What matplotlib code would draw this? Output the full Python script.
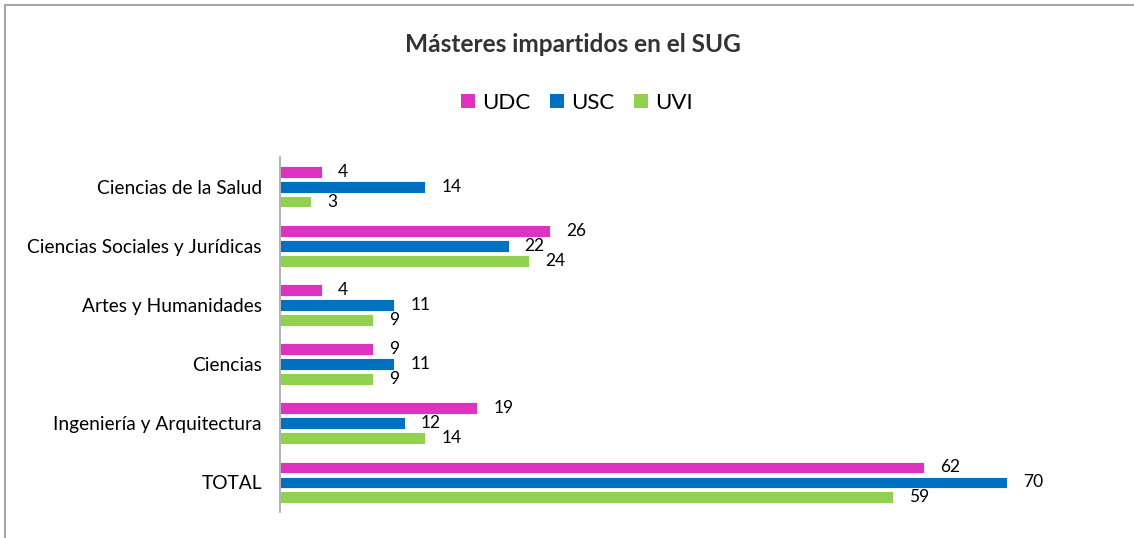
import matplotlib
matplotlib.use("Agg")
import matplotlib.pyplot as plt
from matplotlib.patches import Rectangle, Patch
import numpy as np

plt.rcParams['font.family'] = ['Lato', 'DejaVu Sans']

categories = ["Ciencias de la Salud", "Ciencias Sociales y Jurídicas", "Artes y Humanidades",
              "Ciencias", "Ingeniería y Arquitectura", "TOTAL"]
series_names = ["UDC", "USC", "UVI"]
udc = [4, 26, 4, 9, 19, 62]
usc = [14, 22, 11, 11, 12, 70]
uvi = [3, 24, 9, 9, 14, 59]
colors = ["#DE32C0", "#0070C0", "#92D050"]
title = "Másteres impartidos en el SUG"

W, H = 1134, 538
fig = plt.figure(figsize=(W / 100, H / 100), dpi=100)

# outer border
fig.patches.append(Rectangle((5 / W, -0.05), 1.1, 1 - 5 / H + 0.05, transform=fig.transFigure,
                             fill=False, edgecolor="#A6A6A6", linewidth=1.5))

left, right, top, bottom = 280, 1111, 157, 512
ax = fig.add_axes([left / W, 1 - bottom / H, (right - left) / W, (bottom - top) / H])

n = len(categories)
y = np.arange(n)
bh = 0.2
offs = [-0.253, 0.0, 0.253]
for vals, off, c in zip([udc, usc, uvi], offs, colors):
    ax.barh(y + off, vals, height=bh, color=c, edgecolor="white", linewidth=0.6)
    for yy, v in zip(y + off, vals):
        ax.annotate(str(v), xy=(v, yy), xytext=(11.5, 0), textcoords="offset points",
                    ha="left", va="center", fontsize=12.5, color="black")

ax.set_ylim(n - 0.5, -0.5)
ax.set_xlim(0, 80)
ax.set_yticks(y)
ax.set_yticklabels(categories, fontsize=13.8)
ax.tick_params(axis="y", length=0, pad=13)
ax.set_xticks([])
for s in ["top", "right", "bottom"]:
    ax.spines[s].set_visible(False)
ax.spines["left"].set_color("#A6A6A6")
ax.spines["left"].set_linewidth(1.2)

fig.text(573 / W, 1 - 45 / H, title, ha="center", va="center", fontsize=17.6,
         fontweight="bold", color="#333333")

handles = [Patch(facecolor=c, edgecolor="none") for c in colors]
fig.legend(handles, series_names, loc="center", bbox_to_anchor=(577 / W, 1 - 103 / H),
           ncol=3, frameon=False, fontsize=16, handlelength=0.63, handleheight=0.63,
           handletextpad=0.32, columnspacing=0.9)

fig.savefig("out.png", dpi=100)
